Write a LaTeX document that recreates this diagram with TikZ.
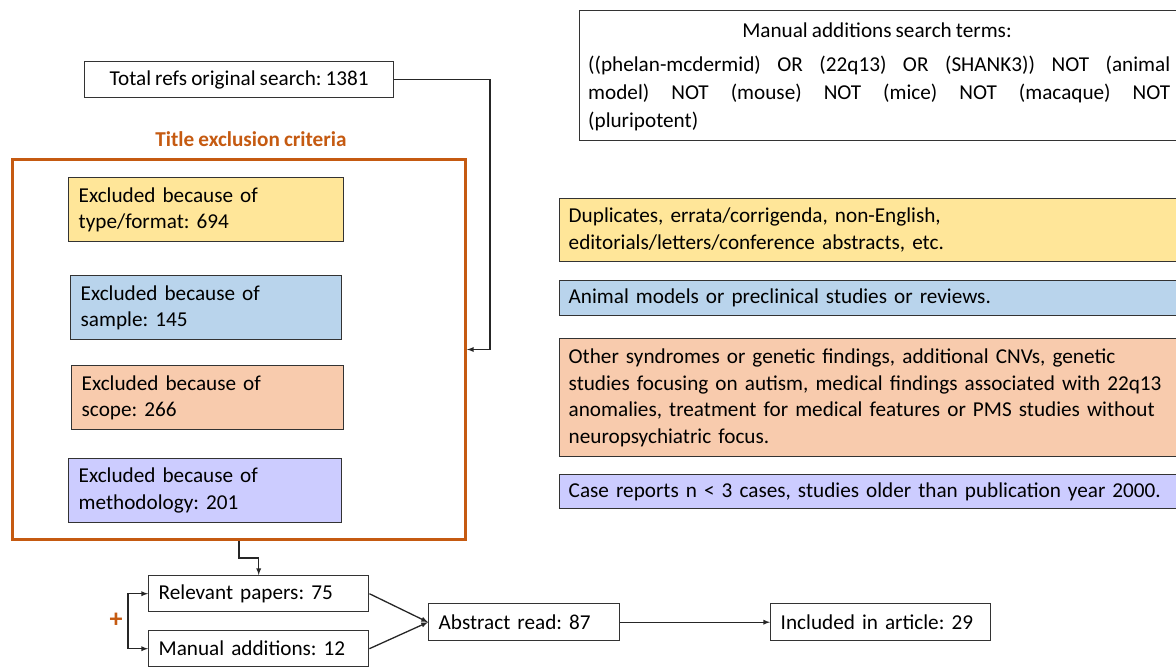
\documentclass[tikz,border=0pt]{standalone}
\usepackage{fontspec}
\setmainfont{Carlito}[WordSpace=0.85]
\frenchspacing
\usetikzlibrary{arrows}

\definecolor{critorange}{HTML}{C55A11}
\definecolor{typeyellow}{HTML}{FFE699}
\definecolor{sampleblue}{HTML}{B9D4EC}
\definecolor{scopeorange}{HTML}{F8CBAD}
\definecolor{methpurple}{HTML}{CCCCFF}
\newcommand{\fsz}{\fontsize{21.2}{26.5}\selectfont\frenchspacing}

\tikzset{
	box/.style={draw=black!80, line width=1.4pt, anchor=north west, inner xsep=10pt, inner ysep=0pt, align=left, font=\fsz},
	wide/.style={box, inner xsep=9pt, text width=620pt},
	arr/.style={-latex, line width=1.3pt, black!85}
}

\begin{document}
\begin{tikzpicture}[x=1pt,y=-1pt]
	\useasboundingbox (0,0) rectangle (1176,667);
	% search terms
	\node [box, minimum width=610pt, minimum height=130pt] (termsbox) at (579,10) {};
	\node [font=\fsz] (termstitle) at (877,30) {Manual additions search terms:};
	\node [anchor=north west, inner sep=0pt, align=left, font=\fontsize{21.2}{28}\selectfont] (terms) at (588,56) {\makebox[582pt][s]{((phelan-mcdermid) OR (22q13) OR (SHANK3)) NOT (animal}\\\makebox[582pt][s]{model) NOT (mouse) NOT (mice) NOT (macaque) NOT}\\(pluripotent)};
	% left column
	\node [box, align=center, minimum width=309pt, minimum height=36pt] (total) at (84,61) {Total refs original search: 1381};
	\node [font=\bfseries\fsz, text=critorange] (crittitle) at (251,139) {Title exclusion criteria};
	\node [draw=critorange, line width=3pt, anchor=north west, minimum width=453pt, minimum height=380pt] (crit) at (11,158) {};
	\node [box, fill=typeyellow, text width=255pt, minimum height=64pt] (type) at (68,177) {Excluded because of\\type/format: 694};
	\node [box, fill=sampleblue, text width=251pt, minimum height=64pt] (sample) at (70,275) {Excluded because of\\sample: 145};
	\node [box, fill=scopeorange, text width=252pt, minimum height=64pt] (scope) at (71,365) {Excluded because of\\scope: 266};
	\node [box, fill=methpurple, text width=253pt, minimum height=64pt] (meth) at (68,458) {Excluded because of\\methodology: 201};
	% right column
	\node [wide, fill=typeyellow, minimum height=63pt] (typetxt) at (559,198) {Duplicates, errata/corrigenda, non-English,\\editorials/letters/conference abstracts, etc.};
	\node [wide, fill=sampleblue, minimum height=35pt] (sampletxt) at (559,280) {Animal models or preclinical studies or reviews.};
	\node [wide, fill=scopeorange, minimum height=118pt] (scopetxt) at (559,338) {Other syndromes or genetic findings, additional CNVs, genetic\\studies focusing on autism, medical findings associated with 22q13\\anomalies, treatment for medical features or PMS studies without\\neuropsychiatric focus.};
	\node [wide, fill=methpurple, minimum height=34pt] (methtxt) at (559,474) {Case reports n < 3 cases, studies older than publication year 2000.};
	% bottom row
	\node [box, text width=200pt, minimum height=36pt] (relevant) at (148,575) {Relevant papers: 75};
	\node [box, text width=200pt, minimum height=36pt] (manual) at (148,630) {Manual additions: 12};
	\node [box, text width=171pt, minimum height=37pt] (abstract) at (428,603) {Abstract read: 87};
	\node [box, text width=200pt, minimum height=37pt] (included) at (770,603) {\mbox{Included in article: 29}};
	\node [font=\bfseries\fontsize{26}{26}\selectfont, text=critorange] (plus) at (116,620) {+};

	\coordinate (bend1) at (490,300);
	\coordinate (bend2) at (250,558);
	\coordinate (brace) at (128,620);
	\draw [arr] (total.east) -| (bend1) |- (crit.east);
	\draw [arr] (crit.south) |- (bend2) -| (relevant.north);
	\draw [arr] (brace) |- (relevant.west);
	\draw [arr] (brace) |- (manual.west);
	\draw [arr] (relevant.east) -- (abstract.west);
	\draw [arr] (manual.east) -- (abstract.west);
	\draw [arr] (abstract.east) -- (included.west);
\end{tikzpicture}
\end{document}
